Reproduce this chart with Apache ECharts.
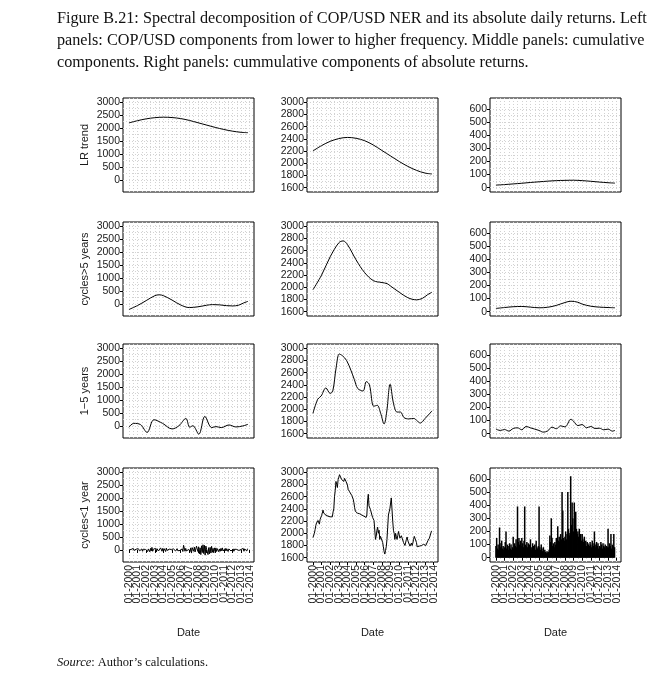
<!DOCTYPE html>
<html><head><meta charset="utf-8">
<script src="https://cdn.jsdelivr.net/npm/echarts@6/dist/echarts.min.js"></script>
<style>html,body{margin:0;padding:0;background:#fff}#c{width:666px;height:675px}</style>
</head><body><div id="c"></div>
<script>
// ---------- DATA ----------
const rowNames = ['LR trend', 'cycles>5 years', '1\u22125 years', 'cycles<1 year'];
const xTickYears = [2000,2001,2002,2003,2004,2005,2006,2007,2008,2009,2010,2011,2012,2013,2014];
const xTickLabels = xTickYears.map(y => '01-' + y);
const yTicksLevel = [0,500,1000,1500,2000,2500,3000];
const yTicksCum = [1600,1800,2000,2200,2400,2600,2800,3000];
const yTicksAbs = [0,100,200,300,400,500,600];

// Left column: components
const lrTrend = [[2000,2203],[2001,2290],[2002,2360],[2003,2405],[2004,2424],[2005,2410],[2006,2370],[2007,2300],[2008,2210],[2009,2120],[2010,2030],[2011,1950],[2012,1885],[2013,1840],[2013.8,1826]];
const cyclesOver5 = [[2000,-214],[2001,-60],[2002,130],[2003,320],[2003.5,353],[2004,320],[2005,150],[2006,-40],[2007,-139],[2008,-110],[2009,-50],[2009.7,-25],[2010.5,-35],[2011.3,-65],[2012,-76],[2012.7,-50],[2013.3,40],[2013.8,100]];
const cycles1to5 = [[2000,-51],[2000.55,100],[2001.35,50],[2002.1,-250],[2002.9,240],[2003.9,100],[2005,-115],[2005.8,10],[2006.6,290],[2007.05,-50],[2007.4,10],[2008.1,-318],[2008.8,369],[2009.6,-64],[2010.1,-25],[2010.7,-64],[2011.6,38],[2012.4,-38],[2013.2,0],[2013.8,64]];
const cyclesUnder1 = [
 0,40,-30,20,-50,30,60,-20,40,-60,30,10,
 -40,50,80,-30,-60,20,40,-50,30,60,-40,20,
 -30,50,-60,40,80,-70,60,-40,100,-50,30,70,
 -20,60,-80,50,90,-40,30,-60,80,40,-50,60,
 -30,50,20,-60,70,-20,40,-50,30,60,-40,20,
 10,-30,40,-20,30,-40,20,50,-30,10,30,-20,
 20,-30,40,-60,180,200,-50,60,-40,30,-80,20,
 40,-60,80,-120,90,60,-50,110,-80,-120,150,40,
 -60,120,-150,80,-180,160,-100,200,-140,180,-200,150,
 120,190,-180,90,-150,100,-120,140,-90,60,-110,80,
 -40,80,-60,50,90,-70,40,-50,60,-30,80,-40,
 30,-50,60,-40,50,110,-60,40,-30,70,-40,20,
 -30,40,-50,30,60,-40,20,-30,40,-20,50,-30,
 20,-40,30,60,-50,40,-30,80,-40,50];

// Middle column: cumulative components
const cumLR = lrTrend;
const cumOver5 = [[2000,1960],[2001,2200],[2002,2500],[2003,2730],[2003.5,2760],[2004,2700],[2005,2450],[2006,2240],[2007,2110],[2008,2078],[2008.6,2060],[2009,2020],[2010,1920],[2011,1830],[2012,1795],[2012.7,1820],[2013.3,1880],[2013.8,1920]];
const cum1to5 = [[2000,1933],[2000.55,2165],[2000.95,2218],[2001.5,2350],[2002.0,2260],[2002.3,2300],[2002.7,2693],[2003.05,2905],[2003.4,2880],[2003.9,2800],[2004.4,2640],[2004.8,2487],[2005.2,2340],[2005.8,2300],[2006.2,2455],[2006.55,2400],[2007.05,2050],[2007.45,2065],[2007.85,1935],[2008.25,1760],[2008.55,1955],[2008.95,2410],[2009.35,2090],[2009.75,1955],[2010.15,1955],[2010.55,1865],[2011.1,1843],[2011.7,1850],[2012.1,1808],[2012.45,1775],[2013.0,1850],[2013.5,1925],[2013.8,1975]];
const copUsd = [
 1930,1950,2000,2060,2130,2170,2160,2210,2180,2150,2230,2240,
 2290,2330,2380,2330,2310,2330,2300,2310,2320,2280,2260,2300,
 2270,2290,2280,2270,2350,2400,2600,2700,2850,2800,2750,2880,
 2920,2960,2930,2950,2880,2850,2880,2850,2900,2870,2850,2830,
 2790,2720,2700,2680,2700,2660,2620,2600,2560,2500,2420,2360,
 2350,2360,2330,2350,2340,2320,2330,2310,2300,2300,2290,2280,
 2280,2250,2260,2300,2530,2640,2450,2420,2390,2380,2300,2260,
 2240,2210,2180,1900,1950,2050,2100,2000,2050,1900,1950,1940,
 1920,1850,1780,1700,1660,1720,1780,1900,2100,2300,2350,2400,
 2430,2580,2550,2200,2050,2000,1900,2000,1950,1900,1960,2030,
 1980,1920,1900,1960,1950,1980,1850,1830,1800,1820,1900,1940,
 1880,1900,1870,1790,1810,1840,1800,1840,1900,1950,1970,1940,
 1850,1780,1760,1770,1790,1780,1780,1800,1790,1790,1820,1800,
 1790,1800,1820,1830,1880,1900,1920,1930,1910,2040];

// Right column: cumulative components of absolute returns
const absLR = [[2000,20],[2001,24],[2002,29],[2003,34],[2004,40],[2005,45],[2006,50],[2007,54],[2008,56],[2009,57],[2010,54],[2011,49],[2012,43],[2013,38],[2013.8,35]];
const absOver5 = [[2000,25],[2001,32],[2002,38],[2003,40],[2004,35],[2005,30],[2006,34],[2007,48],[2008,70],[2008.7,80],[2009.5,72],[2010,58],[2011,42],[2012,35],[2013,32],[2013.8,30]];
const abs1to5 = [[2000,35],[2000.5,25],[2001,32],[2001.5,20],[2002,40],[2002.5,45],[2003,30],[2003.5,55],[2004,45],[2004.5,35],[2005,25],[2005.5,12],[2006,22],[2006.5,50],[2007,38],[2007.5,60],[2008,52],[2008.7,110],[2009,95],[2009.5,62],[2010,70],[2010.5,45],[2011,55],[2011.5,40],[2012,42],[2012.5,30],[2013,35],[2013.5,20],[2013.8,25]];
const absReturns = [
 90,150,70,100,60,230,80,110,130,70,90,60,
 80,120,200,70,100,60,90,110,70,100,60,80,
 160,70,110,90,140,80,390,120,150,100,130,90,
 150,110,80,130,390,100,90,120,80,110,70,100,
 140,80,60,110,90,70,100,60,130,80,70,90,
 390,80,60,100,70,50,80,40,60,45,35,50,
 40,45,60,170,120,300,150,90,110,80,120,100,
 150,110,240,130,160,120,180,140,500,360,150,130,
 160,200,140,180,500,220,170,190,620,250,420,300,
 200,420,250,350,220,180,200,160,220,150,180,130,
 180,140,120,160,100,130,90,120,110,100,90,120,
 100,80,130,110,90,200,100,80,120,90,110,70,
 90,80,120,100,70,110,90,80,100,70,90,80,
 220,80,110,90,180,70,100,90,180,80];

// monthly dates (decimal years) for the daily-frequency panels
const monthX = copUsd.map((_, i) => 2000 + i / 12);
const monthly = arr => arr.map((v, i) => [monthX[i], v]);

// ---------- LAYOUT ----------
const colLeft = [123, 307, 490], colW = 131;
const rowTop = [98, 222, 344, 468], rowH = 94;
const xMin = 1999.31, xMax = 2014.5;
const yCfg = {
  level: {min: -465, max: 3165, major: yTicksLevel, step: 250},
  cum:   {min: 1530, max: 3070, major: yTicksCum, step: 100},
  abs:   {min: -32.5, max: 682.5, major: yTicksAbs, step: 50}
};
function halfSteps(major, step) {
  const out = [];
  for (let v = major[0]; v <= major[major.length - 1] + 1e-9; v += step) out.push(v);
  return out;
}
const xGridVals = halfSteps(xTickYears, 0.5);
// labels split into two interleaved sets so none are dropped as overlapping
const evenYears = xTickYears.filter((y, i) => i % 2 === 0);
const oddYears = xTickYears.filter((y, i) => i % 2 === 1);

const panels = [
  [0,0,lrTrend,'line','level'], [0,1,cumLR,'line','cum'], [0,2,absLR,'line','abs'],
  [1,0,cyclesOver5,'line','level'], [1,1,cumOver5,'line','cum'], [1,2,absOver5,'line','abs'],
  [2,0,cycles1to5,'line','level'], [2,1,cum1to5,'line','cum'], [2,2,abs1to5,'line','abs'],
  [3,0,monthly(cyclesUnder1),'raw','level'], [3,1,monthly(copUsd),'raw','cum'], [3,2,monthly(absReturns),'bar','abs']
];

const FONT = '"Liberation Sans", Arial, sans-serif';
const TXT = '#1a1a1a';
const GRIDCOL = '#d2d2d2';
const grid = [], xAxis = [], yAxis = [], series = [];
function labelAxis(k, years, bottom, withName) {
  return {type: 'value', gridIndex: k, min: xMin, max: xMax, position: 'bottom', offset: 0,
    axisLine: {show: false},
    axisTick: {show: bottom, customValues: years, length: 3, lineStyle: {color: '#000'}},
    axisLabel: {show: bottom, customValues: years, rotate: 90, margin: 3,
      showMinLabel: true, showMaxLabel: true, hideOverlap: false,
      formatter: v => xTickLabels[xTickYears.indexOf(Math.round(v))],
      fontFamily: FONT, fontSize: 10.5, color: TXT},
    splitLine: {show: false},
    name: (bottom && withName) ? 'Date' : '', nameLocation: 'middle', nameGap: 65,
    nameTextStyle: {fontFamily: FONT, fontSize: 11, color: TXT}
  };
}
panels.forEach((p, k) => {
  const [r, c, data, kind, yk] = p;
  const yc = yCfg[yk];
  grid.push({left: colLeft[c], top: rowTop[r], width: colW, height: rowH, show: true,
             borderColor: '#000', borderWidth: 1, backgroundColor: 'transparent'});
  const bottom = r === 3;
  xAxis.push(labelAxis(k, evenYears, bottom, true));
  xAxis.push(labelAxis(k, oddYears, bottom, false));
  xAxis.push({type: 'value', gridIndex: k, min: xMin, max: xMax, position: 'top',
    axisLine: {show: false}, axisLabel: {show: false},
    axisTick: {show: false, customValues: xGridVals},
    splitLine: {show: true, lineStyle: {color: GRIDCOL, type: [1, 2], width: 1}}
  });
  yAxis.push({type: 'value', gridIndex: k, min: yc.min, max: yc.max, position: 'left',
    axisLine: {show: false},
    axisTick: {show: true, customValues: yc.major, length: 3, lineStyle: {color: '#000'}},
    axisLabel: {customValues: yc.major, margin: 3, showMinLabel: true, showMaxLabel: true,
      formatter: v => String(Math.round(v)), fontFamily: FONT, fontSize: 10.5, color: TXT},
    splitLine: {show: false},
    name: c === 0 ? rowNames[r] : '', nameLocation: 'middle', nameRotate: 90, nameGap: 33,
    nameTextStyle: {fontFamily: FONT, fontSize: 11, color: TXT}
  });
  yAxis.push({type: 'value', gridIndex: k, min: yc.min, max: yc.max, position: 'right',
    axisLine: {show: false}, axisLabel: {show: false},
    axisTick: {show: false, customValues: halfSteps(yc.major, yc.step)},
    splitLine: {show: true, lineStyle: {color: GRIDCOL, type: [1, 2], width: 1}}
  });
  const s = {xAxisIndex: 3 * k, yAxisIndex: 2 * k, data: data, silent: true, z: 3};
  if (kind === 'bar') {
    Object.assign(s, {type: 'bar', barWidth: 1.5, itemStyle: {color: '#000'}});
  } else {
    Object.assign(s, {type: 'line', symbol: 'none', smooth: kind === 'line' ? 0.35 : false,
      lineStyle: {color: '#000', width: 1}});
  }
  series.push(s);
});

const SERIF = '"Liberation Serif", "DejaVu Serif", serif';
const titleLines = [
  'Figure B.21: Spectral decomposition of COP/USD NER and its absolute daily returns. Left',
  'panels: COP/USD components from lower to higher frequency. Middle panels: cumulative',
  'components. Right panels: cummulative components of absolute returns.'
];
const graphic = titleLines.map((t, i) => ({type: 'text', left: 57, top: 11 + i * 22,
  style: {text: t, fontFamily: SERIF, fontSize: 16.2, fill: '#111'}}));
graphic.push({type: 'text', left: 57, top: 656,
  style: {text: '{i|Source}: Author\u2019s calculations.', fontFamily: SERIF, fontSize: 12.5, fill: '#111',
    rich: {i: {fontStyle: 'italic', fontFamily: SERIF, fontSize: 12.5, fill: '#111'}}}});

const chart = echarts.init(document.getElementById('c'), null, {renderer: 'canvas'});
chart.setOption({animation: false, backgroundColor: '#fff', grid, xAxis, yAxis, series, graphic});
</script></body></html>
